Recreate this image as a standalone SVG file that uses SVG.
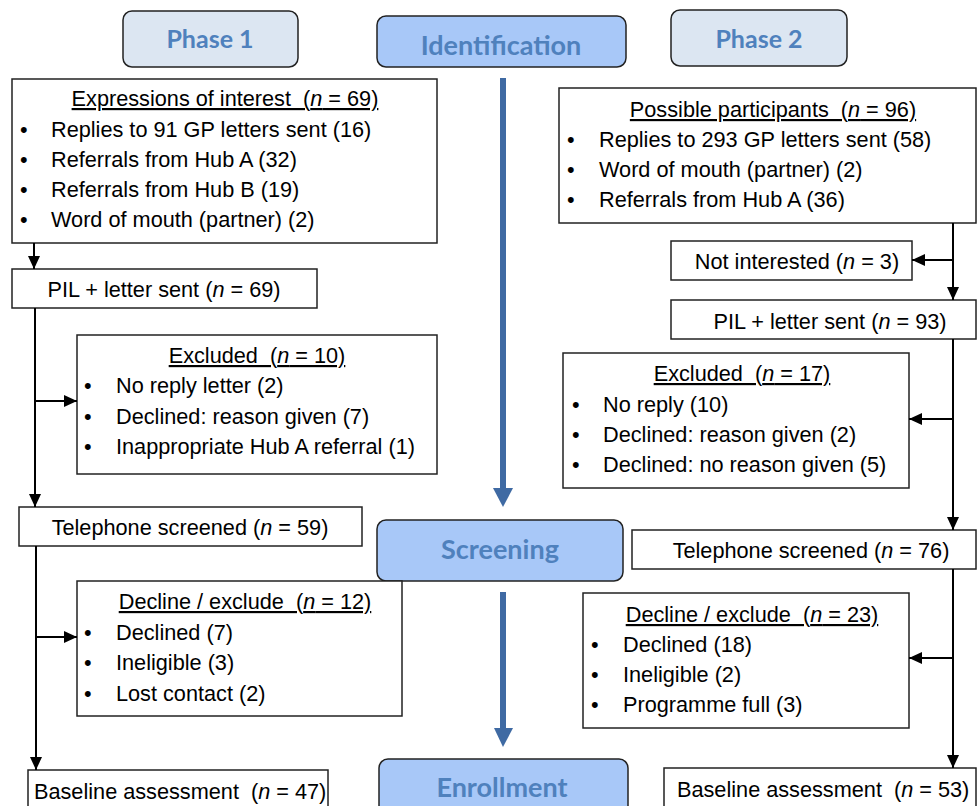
<svg xmlns="http://www.w3.org/2000/svg" width="977" height="806" viewBox="0 0 977 806">
<defs>
<style>
.box{fill:#fff;stroke:#222;stroke-width:1.5}
.phase{fill:#dce6f2;stroke:#222;stroke-width:1.5}
.stage{fill:#a8c8f8;stroke:#222;stroke-width:1.5}
.hd{font-family:Lato,"Open Sans","Liberation Sans",sans-serif;font-weight:bold;fill:#4f81bd;text-anchor:middle}
.t{font-family:"Liberation Sans",Arial,sans-serif;font-size:21.7px;fill:#000}
.c{text-anchor:middle}
.u{text-decoration:underline}
.i{font-style:italic}
.ln{stroke:#000;stroke-width:2;fill:none}
.bl{stroke:#3f6aa3;stroke-width:6;fill:none}
</style>
<marker id="ah" markerUnits="userSpaceOnUse" markerWidth="14" markerHeight="12" refX="13" refY="6" orient="auto">
<path d="M0,0 L13,6 L0,12 z" fill="#000"/>
</marker>
</defs>

<g id="phase1"><rect class="phase" x="123" y="11" width="175" height="56" rx="9"/><text class="hd" x="210" y="48" font-size="25">Phase 1</text></g>
<g id="identification"><rect class="stage" x="377" y="16" width="249" height="51" rx="9"/><text class="hd" x="501" y="55" font-size="27">Identification</text></g>
<g id="phase2"><rect class="phase" x="671" y="10" width="176" height="56" rx="9"/><text class="hd" x="759" y="48" font-size="25">Phase 2</text></g>
<g id="screening"><rect class="stage" x="377" y="520" width="246" height="61" rx="9"/><text class="hd" x="500" y="559" font-size="27">Screening</text></g>
<g id="enrollment"><rect class="stage" x="379" y="759" width="249" height="60" rx="9"/><text class="hd" x="502" y="797" font-size="27">Enrollment</text></g>

<g id="expressions"><rect class="box" x="12" y="79" width="425" height="164"/>
<text class="t c u" x="225" y="106">Expressions of interest&#160; (<tspan class="i">n</tspan> = 69)</text>
<text class="t" x="20" y="137">•</text><text class="t" x="51" y="137">Replies to 91 GP letters sent (16)</text>
<text class="t" x="20" y="167">•</text><text class="t" x="51" y="167">Referrals from Hub A (32)</text>
<text class="t" x="20" y="197">•</text><text class="t" x="51" y="197">Referrals from Hub B (19)</text>
<text class="t" x="20" y="227">•</text><text class="t" x="51" y="227">Word of mouth (partner) (2)</text></g>

<g id="pil1"><rect class="box" x="12" y="269" width="305" height="39"/><text class="t c" x="164" y="297">PIL + letter sent (<tspan class="i">n</tspan> = 69)</text></g>

<g id="excluded1"><rect class="box" x="77" y="335" width="360" height="139"/>
<text class="t c u" x="257" y="363">Excluded&#160; (<tspan class="i">n</tspan> = 10)</text>
<text class="t" x="84" y="393">•</text><text class="t" x="116" y="393">No reply letter (2)</text>
<text class="t" x="84" y="424">•</text><text class="t" x="116" y="424">Declined: reason given (7)</text>
<text class="t" x="84" y="454">•</text><text class="t" x="116" y="454">Inappropriate Hub A referral (1)</text></g>

<g id="tel1"><rect class="box" x="19" y="507" width="343" height="39"/><text class="t c" x="190" y="535">Telephone screened (<tspan class="i">n</tspan> = 59)</text></g>

<g id="decline1"><rect class="box" x="77" y="581" width="325" height="135"/>
<text class="t c u" x="245" y="609">Decline / exclude&#160; (<tspan class="i">n</tspan> = 12)</text>
<text class="t" x="84" y="640">•</text><text class="t" x="116" y="640">Declined (7)</text>
<text class="t" x="84" y="670">•</text><text class="t" x="116" y="670">Ineligible (3)</text>
<text class="t" x="84" y="701">•</text><text class="t" x="116" y="701">Lost contact (2)</text></g>

<g id="baseline1"><rect class="box" x="28" y="770" width="300" height="50"/><text class="t" x="34" y="799">Baseline assessment&#160; (<tspan class="i">n</tspan> = 47)</text></g>

<g id="possible"><rect class="box" x="559" y="88" width="417" height="135"/>
<text class="t c u" x="773" y="117">Possible participants&#160; (<tspan class="i">n</tspan> = 96)</text>
<text class="t" x="567" y="147">•</text><text class="t" x="599" y="147">Replies to 293 GP letters sent (58)</text>
<text class="t" x="567" y="177">•</text><text class="t" x="599" y="177">Word of mouth (partner) (2)</text>
<text class="t" x="567" y="207">•</text><text class="t" x="599" y="207">Referrals from Hub A (36)</text></g>

<g id="notinterested"><rect class="box" x="671" y="241" width="241" height="39"/><text class="t c" x="797" y="269">Not interested (<tspan class="i">n</tspan> = 3)</text></g>

<g id="pil2"><rect class="box" x="671" y="300" width="305" height="39"/><text class="t c" x="830" y="329">PIL + letter sent (<tspan class="i">n</tspan> = 93)</text></g>

<g id="excluded2"><rect class="box" x="563" y="353" width="346" height="135"/>
<text class="t c u" x="742" y="381">Excluded&#160; (<tspan class="i">n</tspan> = 17)</text>
<text class="t" x="572" y="412">•</text><text class="t" x="603" y="412">No reply (10)</text>
<text class="t" x="572" y="442">•</text><text class="t" x="603" y="442">Declined: reason given (2)</text>
<text class="t" x="572" y="472">•</text><text class="t" x="603" y="472">Declined: no reason given (5)</text></g>

<g id="tel2"><rect class="box" x="632" y="530" width="344" height="39"/><text class="t c" x="811" y="558">Telephone screened (<tspan class="i">n</tspan> = 76)</text></g>

<g id="decline2"><rect class="box" x="583" y="593" width="326" height="135"/>
<text class="t c u" x="752" y="622">Decline / exclude&#160; (<tspan class="i">n</tspan> = 23)</text>
<text class="t" x="591" y="652">•</text><text class="t" x="623" y="652">Declined (18)</text>
<text class="t" x="591" y="682">•</text><text class="t" x="623" y="682">Ineligible (2)</text>
<text class="t" x="591" y="712">•</text><text class="t" x="623" y="712">Programme full (3)</text></g>

<g id="baseline2"><rect class="box" x="664" y="768" width="312" height="50"/><text class="t" x="677" y="797">Baseline assessment&#160; (<tspan class="i">n</tspan> = 53)</text></g>

<g id="connectors">
<line class="ln" x1="34" y1="243" x2="34" y2="269" marker-end="url(#ah)"/>
<line class="ln" x1="35" y1="308" x2="35" y2="507" marker-end="url(#ah)"/>
<line class="ln" x1="35" y1="401" x2="77" y2="401" marker-end="url(#ah)"/>
<line class="ln" x1="36" y1="546" x2="36" y2="770" marker-end="url(#ah)"/>
<line class="ln" x1="36" y1="637" x2="77" y2="637" marker-end="url(#ah)"/>
<line class="ln" x1="953" y1="223" x2="953" y2="300" marker-end="url(#ah)"/>
<line class="ln" x1="953" y1="260" x2="912" y2="260" marker-end="url(#ah)"/>
<line class="ln" x1="953" y1="339" x2="953" y2="530" marker-end="url(#ah)"/>
<line class="ln" x1="953" y1="419" x2="909" y2="419" marker-end="url(#ah)"/>
<line class="ln" x1="953" y1="569" x2="953" y2="768" marker-end="url(#ah)"/>
<line class="ln" x1="953" y1="658" x2="909" y2="658" marker-end="url(#ah)"/>
<line class="bl" x1="503" y1="78" x2="503" y2="490"/>
<path d="M493,488 L513,488 L503,507 z" fill="#3f6aa3"/>
<line class="bl" x1="503" y1="592" x2="503" y2="730"/>
<path d="M494,728 L513,728 L503,747 z" fill="#3f6aa3"/>
</g>
</svg>
